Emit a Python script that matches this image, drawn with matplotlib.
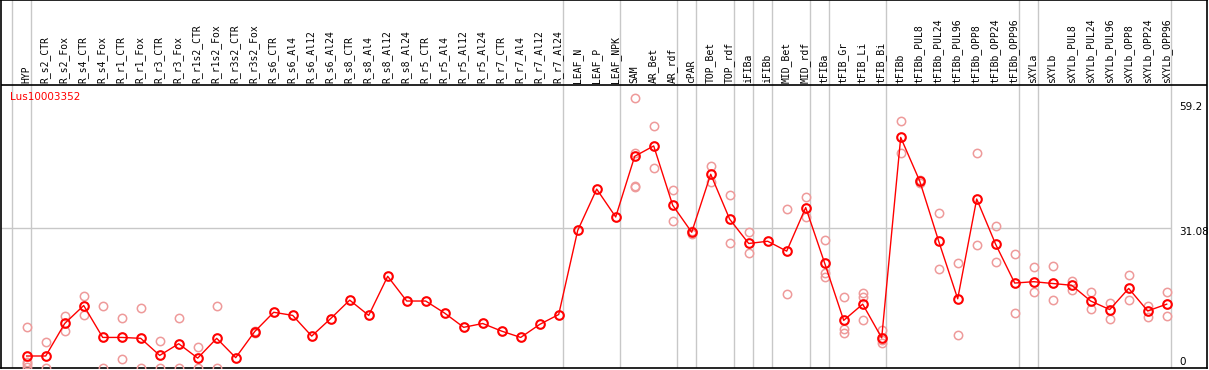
import numpy as np
import matplotlib
matplotlib.use("Agg")
import matplotlib.pyplot as plt

# column names (header, rotated)
labels = ["HYP",
          "R_s2_CTR", "R_s2_Fox", "R_s4_CTR", "R_s4_Fox", "R_r1_CTR", "R_r1_Fox",
          "R_r3_CTR", "R_r3_Fox", "R_r1s2_CTR", "R_r1s2_Fox", "R_r3s2_CTR", "R_r3s2_Fox",
          "R_s6_CTR", "R_s6_Al4", "R_s6_Al12", "R_s6_Al24",
          "R_s8_CTR", "R_s8_Al4", "R_s8_Al12", "R_s8_Al24",
          "R_r5_CTR", "R_r5_Al4", "R_r5_Al12", "R_r5_Al24",
          "R_r7_CTR", "R_r7_Al4", "R_r7_Al12", "R_r7_Al24",
          "LEAF_N", "LEAF_P", "LEAF_NPK", "SAM", "AR_Bet", "AR_rdf", "cPAR",
          "TOP_Bet", "TOP_rdf", "iFIBa", "iFIBb", "MID_Bet", "MID_rdf",
          "tFIBa", "tFIB_Gr", "tFIB_Li", "tFIB_Bi", "tFIBb",
          "tFIBb_PUL8", "tFIBb_PUL24", "tFIBb_PUL96", "tFIBb_OPP8", "tFIBb_OPP24", "tFIBb_OPP96",
          "sXYLa", "sXYLb",
          "sXYLb_PUL8", "sXYLb_PUL24", "sXYLb_PUL96", "sXYLb_OPP8", "sXYLb_OPP24", "sXYLb_OPP96"]

# mean expression (red line)
means = [2.67, 2.67, 9.9, 13.9, 6.8, 6.8, 6.6, 2.8, 5.4, 2.2, 6.6, 2.3, 8.1, 12.4, 11.7,
         7.1, 11.0, 15.1, 11.7, 20.4, 14.9, 14.9, 12.2, 9.05, 9.9, 8.2, 6.8, 9.7, 11.9,
         30.6, 39.8, 33.6, 47.1, 49.4, 36.2, 30.2, 43.1, 33.1, 27.7, 28.2, 26.0, 35.7,
         23.3, 10.6, 14.2, 6.7, 51.3, 41.6, 28.2, 15.4, 37.6, 27.5, 18.9,
         19.2, 18.8, 18.4, 14.9, 13.0, 17.7, 12.7, 14.2]

# replicates (faded circles): column index and value
rep_col = [0, 0, 0, 0, 1, 1, 2, 2, 3, 3, 4, 4, 5, 5, 6, 6, 7, 7, 8, 8, 9, 9, 10, 10, 12, 12,
           32, 32, 32, 32, 33, 33, 34, 34, 35, 35, 36, 36, 37, 37, 38, 38, 40, 40, 41, 41,
           42, 42, 42, 43, 43, 43, 44, 44, 44, 45, 45, 45, 46, 46, 47, 47, 48, 48, 49, 49,
           50, 50, 51, 51, 52, 52, 53, 53, 54, 54, 55, 55, 56, 56, 57, 57, 58, 58, 59, 59, 60, 60]
rep_val = [9.1, 1.4, 0.9, 0.3, 5.8, 0.0, 11.6, 8.3, 16.0, 11.9, 13.9, 0.0, 11.2, 2.1,
           13.4, 0.0, 5.9, 0.0, 11.2, 0.0, 4.7, 0.0, 13.7, 0.0, 8.3, 7.8,
           60.0, 47.8, 40.3, 40.6, 53.8, 44.6, 39.5, 32.6, 30.5, 29.8, 44.9, 41.4,
           38.4, 27.7, 30.2, 25.5, 35.3, 16.5, 38.0, 33.5,
           28.4, 21.2, 20.3, 15.8, 8.7, 7.7, 16.6, 15.9, 10.6, 8.5, 6.2, 5.6,
           54.9, 47.8, 41.9, 41.1, 34.4, 22.0, 23.3, 7.3, 47.8, 27.4, 31.6, 23.6,
           25.3, 12.2, 22.4, 16.8, 22.7, 15.1, 19.4, 17.4, 16.8, 13.1, 14.5, 11.0,
           20.6, 15.1, 13.8, 11.3, 16.8, 11.5]

# group separators (after these columns)
sep_after = [-1, 0, 28, 31, 34, 35, 37, 38, 39, 41, 42, 45, 52, 53, 60]

gene = "Lus10003352"
ytick_vals = ["59.2", "31.08", "0"]
mid_line = 31.08

W, H = 1209, 370
fig = plt.figure(figsize=(W / 100, H / 100), dpi=100)

# pixel geometry of the picture
x0, dx = 26.7, 19.0          # first column centre, column spacing
ybot, yscale = 368.0, 4.495  # pixel of value 0, pixels per unit
ax = fig.add_axes([1 / W, (H - ybot) / H, 1206 / W, ybot / H])
ax.set_xlim((1 - x0) / dx, (1207 - x0) / dx)
ax.set_ylim(0, ybot / yscale)
ax.set_xticks([])
ax.set_yticks([])
for s in ax.spines.values():
    s.set_color("black")
    s.set_linewidth(1.2)

grey = "#c8c8c8"
for k in sep_after:
    ax.axvline(k + 0.22, color=grey, lw=1, zorder=1)
ax.hlines(mid_line, ax.get_xlim()[0], 60.22, color=grey, lw=1, zorder=1)

# header line
y_head = (ybot - 85) / yscale
ax.axhline(y_head, color="black", lw=1.2, zorder=2)

cols = np.arange(len(labels))
for i, lab in enumerate(labels):
    ax.text(i - 0.03, (ybot - 83) / yscale, lab, rotation=90, ha="center", va="bottom",
            family="DejaVu Sans Mono", fontsize=7, color="black")

ax.plot(rep_col, rep_val, "o", mfc="none", mec="#ee9a9a", ms=6, mew=1.1, zorder=3)
ax.plot(cols, means, "-", color="#ff0000", lw=1, zorder=4)
ax.plot(cols, means, "o", mfc="none", mec="#ff0000", ms=6.2, mew=1.5, zorder=5)

fig.text(10 / W, 1 - 97 / H, gene, color="#ff0000", fontsize=7.5, va="center", ha="left")

ypix = [107, 232, 362]
for t, yp in zip(ytick_vals, ypix):
    fig.text(1179 / W, 1 - yp / H, t, fontsize=7.5, va="center", ha="left")

fig.savefig("out.png", dpi=100)
